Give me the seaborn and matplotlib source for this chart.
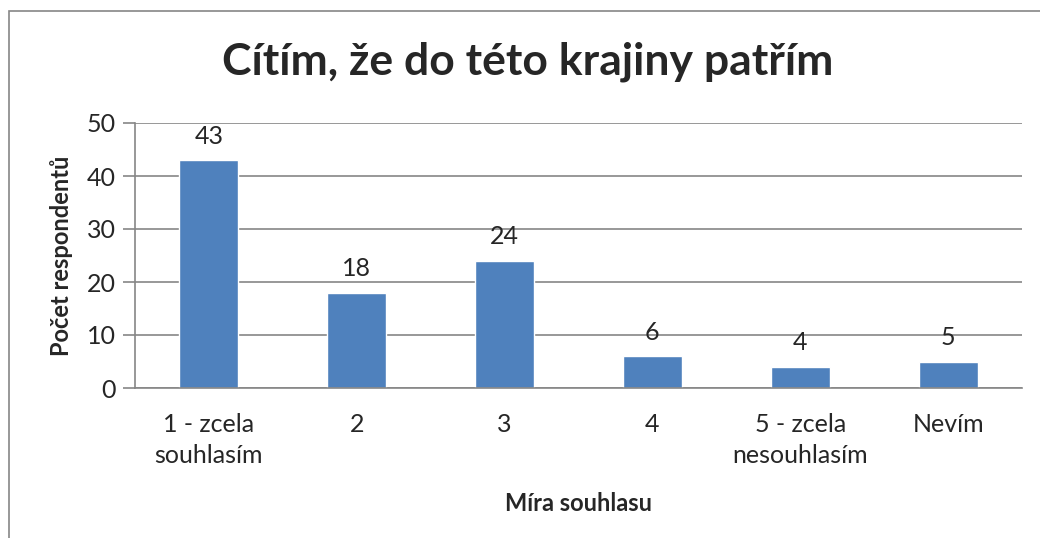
import matplotlib
matplotlib.use("Agg")
import matplotlib.pyplot as plt
import seaborn as sns
import pandas as pd
from matplotlib.patches import Rectangle

# Data
categories = ["1 - zcela\nsouhlasím", "2", "3", "4", "5 - zcela\nnesouhlasím", "Nevím"]
counts = [43, 18, 24, 6, 4, 5]
y_ticks = [0, 10, 20, 30, 40, 50]

df = pd.DataFrame({"kategorie": categories, "pocet": counts})

sns.set_theme(style="white")
plt.rcParams["font.family"] = ["Lato", "DejaVu Sans"]

bar_color = "#4F81BD"
grid_color = "#868686"

fig = plt.figure(figsize=(10.4, 5.38), dpi=100)
ax = fig.add_axes([135 / 1040, 150 / 538, 887 / 1040, 265 / 538])

sns.barplot(data=df, x="kategorie", y="pocet", color=bar_color,
            saturation=1, width=0.4, ax=ax)

ax.set_ylim(0, 50)
ax.set_yticks(y_ticks)
ax.set_xlim(-0.5, len(categories) - 0.5)
ax.yaxis.grid(True, color=grid_color, linewidth=1.2)
ax.set_axisbelow(True)

for side in ["top", "right"]:
    ax.spines[side].set_visible(False)
for side in ["left", "bottom"]:
    ax.spines[side].set_color(grid_color)
    ax.spines[side].set_linewidth(1.2)

ax.tick_params(axis="y", left=True, length=9, width=1.2, color=grid_color,
               labelsize=18, pad=5)
ax.tick_params(axis="x", bottom=False, labelsize=18, pad=12)
for lbl in ax.get_xticklabels():
    lbl.set_linespacing(1.4)

ax.bar_label(ax.containers[0], fontsize=18, padding=9)

ax.set_xlabel("Míra souhlasu", fontsize=17, fontweight="bold", labelpad=18)
ax.set_ylabel("Počet respondentů", fontsize=17, fontweight="bold", labelpad=10)

fig.text(0.507, 1 - 62 / 538, "Cítím, že do této krajiny patřím",
         ha="center", va="center", fontsize=32, fontweight="bold")

# outer chart frame (cropped on right and bottom)
fig.patches.append(Rectangle((9 / 1040, -0.2), 1.2, 1.2 - 11 / 538,
                             transform=fig.transFigure, fill=False,
                             edgecolor=grid_color, linewidth=1.2))

fig.savefig("out.png", dpi=100)
